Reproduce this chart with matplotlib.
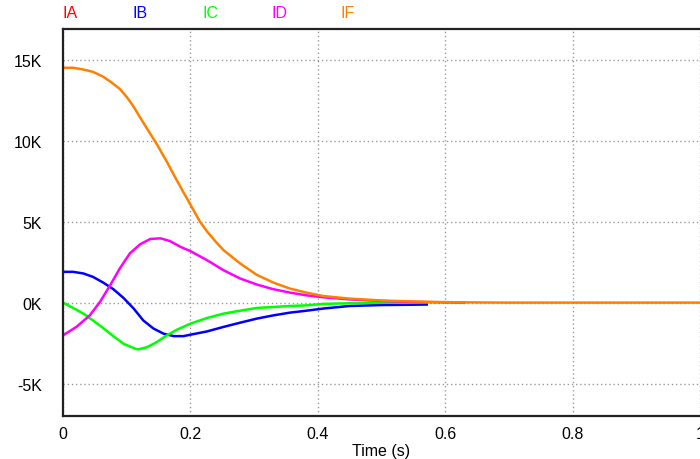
import matplotlib.pyplot as plt
from matplotlib.ticker import FuncFormatter

plt.rcParams['font.family'] = ['Liberation Sans', 'DejaVu Sans']

# waveforms, time in s, currents in kA
t_if = [0, 0.016, 0.031, 0.047, 0.063, 0.076, 0.089, 0.10, 0.11, 0.12, 0.131, 0.147,
        0.163, 0.178, 0.19, 0.2, 0.215, 0.226, 0.24, 0.252, 0.278, 0.304, 0.33, 0.356,
        0.382, 0.408, 0.449, 0.5, 0.55, 0.6, 0.65, 0.7, 0.8, 0.9, 1.0]
i_f = [14.5, 14.5, 14.4, 14.25, 13.95, 13.6, 13.2, 12.7, 12.15, 11.5, 10.8, 9.8,
       8.7, 7.6, 6.75, 6.05, 5.0, 4.4, 3.75, 3.24, 2.42, 1.72, 1.24, 0.87,
       0.62, 0.41, 0.25, 0.13, 0.07, 0.03, 0.01, 0.0, 0.0, 0.0, 0.0]

t_id = [0, 0.021, 0.042, 0.058, 0.074, 0.089, 0.105, 0.121, 0.137, 0.153, 0.168,
        0.184, 0.2, 0.226, 0.252, 0.278, 0.304, 0.33, 0.356, 0.382, 0.408, 0.449,
        0.5, 0.55, 0.63]
i_d = [-2.02, -1.5, -0.79, 0.04, 1.07, 2.1, 3.04, 3.6, 3.93, 3.97, 3.8,
       3.45, 3.18, 2.62, 2.0, 1.49, 1.12, 0.83, 0.62, 0.45, 0.33, 0.2,
       0.1, 0.04, 0.0]

t_ib = [0, 0.016, 0.032, 0.047, 0.063, 0.079, 0.095, 0.111, 0.126, 0.142, 0.158,
        0.174, 0.189, 0.2, 0.226, 0.252, 0.278, 0.304, 0.33, 0.356, 0.382, 0.408,
        0.449, 0.5, 0.571]
i_b = [1.9, 1.9, 1.8, 1.59, 1.24, 0.83, 0.29, -0.37, -1.1, -1.6, -1.92,
       -2.07, -2.07, -1.98, -1.78, -1.5, -1.24, -0.99, -0.79, -0.62, -0.5, -0.37,
       -0.21, -0.15, -0.12]

t_ic = [0, 0.016, 0.032, 0.047, 0.063, 0.079, 0.095, 0.111, 0.118, 0.132, 0.147,
        0.163, 0.179, 0.2, 0.226, 0.252, 0.278, 0.304, 0.33, 0.356, 0.382, 0.408,
        0.449, 0.5, 0.571]
i_c = [0.0, -0.33, -0.68, -1.1, -1.57, -2.07, -2.54, -2.81, -2.89, -2.75, -2.44,
       -2.02, -1.67, -1.3, -0.95, -0.68, -0.5, -0.33, -0.27, -0.21, -0.17, -0.08,
       -0.04, -0.01, 0.0]

t_ia = []
i_a = []

names = ['IA', 'IB', 'IC', 'ID', 'IF']
colors = ['#ff0000', '#0000ff', '#00ff00', '#ff00ff', '#ff8000']

fig = plt.figure(figsize=(7, 4.6), dpi=100)
ax = fig.add_axes([0.09, 0.0935, 0.91, 0.8415])

series = [(t_ia, i_a), (t_ib, i_b), (t_ic, i_c), (t_id, i_d), (t_if, i_f)]
for (t, i), c in zip(series, colors):
    ax.plot(t, i, color=c, lw=1.8)

ax.set_xlim(0, 1)
ax.set_ylim(-7, 16.9)
ax.set_xticks([0, 0.2, 0.4, 0.6, 0.8, 1])
ax.set_yticks([-5, 0, 5, 10, 15])
ax.xaxis.set_major_formatter(FuncFormatter(lambda v, p: '%g' % v))
ax.yaxis.set_major_formatter(FuncFormatter(lambda v, p: '%dK' % v))
ax.grid(True, color='#999999', ls=(0, (1, 2)), lw=1)
ax.tick_params(length=0, labelsize=11.5)
ax.tick_params(axis='y', pad=15)
ax.tick_params(axis='x', pad=7)
for s in ['left', 'bottom', 'top']:
    ax.spines[s].set_linewidth(1.6)
    ax.spines[s].set_color('#222222')
ax.spines['right'].set_visible(False)
ax.set_xlabel('Time (s)', fontsize=11.5, labelpad=2)

for k, (n, c) in enumerate(zip(names, colors)):
    fig.text((63 + 69.5 * k) / 700, 1 - 14 / 460, n, color=c, fontsize=11.5,
             va='center', ha='left')

fig.savefig('out.png', dpi=100)
